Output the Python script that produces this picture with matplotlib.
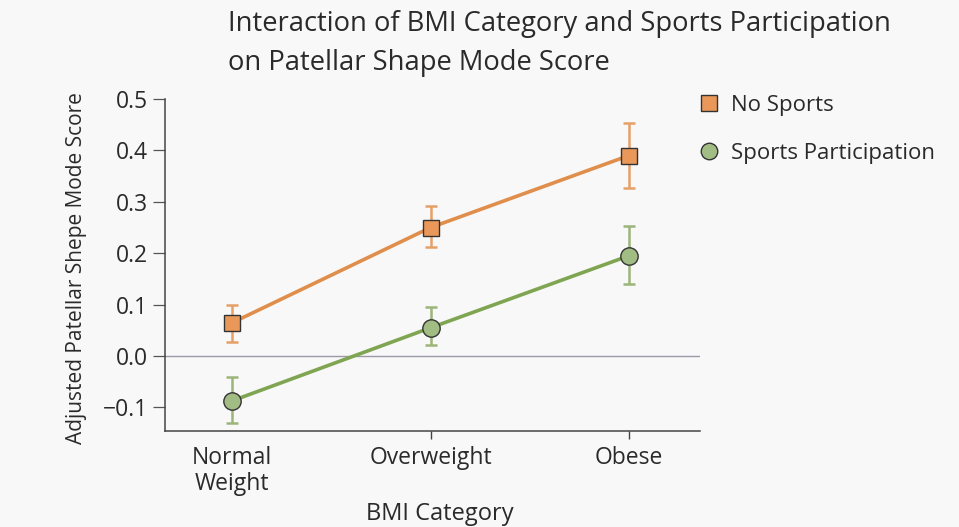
import matplotlib
matplotlib.use("Agg")
import matplotlib.pyplot as plt
import numpy as np

categories = ["Normal\nWeight", "Overweight", "Obese"]

no_sports = [0.065, 0.250, 0.390]
no_sports_low = [0.028, 0.212, 0.327]
no_sports_high = [0.100, 0.291, 0.453]

sports = [-0.087, 0.055, 0.195]
sports_low = [-0.130, 0.022, 0.141]
sports_high = [-0.040, 0.095, 0.253]

yticks = [-0.1, 0.0, 0.1, 0.2, 0.3, 0.4, 0.5]
ytick_labels = ["\u22120.1", "0.0", "0.1", "0.2", "0.3", "0.4", "0.5"]

FONT = "Open Sans"
bg = "#F8F8F8"
orange_line = "#E08E4C"
orange_face = "#E9985A"
orange_err = "#E6A066"
green_line = "#7FA552"
green_face = "#A2BD84"
green_err = "#9BB57A"
text_col = "#2A2A2A"

W, H = 959, 527
fig = plt.figure(figsize=(W / 100, H / 100), dpi=100, facecolor=bg)
ax = fig.add_axes([0.172, 0.182, 0.558, 0.630], facecolor=bg)

x = np.arange(len(categories))

def draw(vals, lo, hi, lc, fc, ec, marker, ms, label):
    vals = np.array(vals); lo = np.array(lo); hi = np.array(hi)
    ax.errorbar(x, vals, yerr=[vals - lo, hi - vals], fmt="none",
                ecolor=ec, elinewidth=1.8, capsize=4, capthick=1.8, zorder=2)
    ax.plot(x, vals, color=lc, lw=2.6, zorder=3)
    ax.plot(x, vals, linestyle="none", marker=marker, ms=ms,
            markerfacecolor=fc, markeredgecolor="#333333", markeredgewidth=1.0,
            zorder=4, label=label)

ax.axhline(0, color="#9A9AAA", lw=1.0, zorder=1)
draw(no_sports, no_sports_low, no_sports_high, orange_line, orange_face,
     orange_err, "s", 11.5, "No Sports")
draw(sports, sports_low, sports_high, green_line, green_face,
     green_err, "o", 12.5, "Sports Participation")

ax.set_xlim(-0.34, 2.36)
ax.set_ylim(-0.146, 0.5)
ax.set_xticks(x)
ax.set_xticklabels(categories, fontsize=16.5, family=FONT, color=text_col,
                   linespacing=1.1)
ax.set_yticks(yticks)
ax.set_yticklabels(ytick_labels, fontsize=16.5, family=FONT, color=text_col)
ax.tick_params(axis="x", length=6, width=1.0, color="#444444", pad=5)
ax.tick_params(axis="y", length=9, width=0.9, color="#555555", pad=3)
ax.xaxis.get_major_ticks()[0].tick1line.set_visible(False)

for s in ["top", "right"]:
    ax.spines[s].set_visible(False)
for s in ["left", "bottom"]:
    ax.spines[s].set_color("#444444")
    ax.spines[s].set_linewidth(1.1)

ax.set_xlabel("BMI Category", fontsize=17, family=FONT, color=text_col)
ax.xaxis.set_label_coords(0.514, -0.215)
ax.set_ylabel("Adjusted Patellar Shepe Mode Score", fontsize=15, family=FONT,
              color=text_col)
ax.yaxis.set_label_coords(-0.145, 0.49)

fig.text(0.238, 0.954, "Interaction of BMI Category and Sports Participation",
         fontsize=19.7, family=FONT, color=text_col, va="center", ha="left")
fig.text(0.238, 0.881, "on Patellar Shape Mode Score",
         fontsize=19.7, family=FONT, color=text_col, va="center", ha="left")

leg = fig.legend(*ax.get_legend_handles_labels(), loc="upper left",
                 bbox_to_anchor=(698 / W, 1 - 95 / H),
                 bbox_transform=fig.transFigure, frameon=False,
                 prop={"family": FONT, "size": 16}, handletextpad=0.5,
                 labelspacing=1.2, markerscale=0.95, handlelength=1.0,
                 borderpad=0, borderaxespad=0)
for t in leg.get_texts():
    t.set_color(text_col)

fig.savefig("out.png", dpi=100, facecolor=bg)
